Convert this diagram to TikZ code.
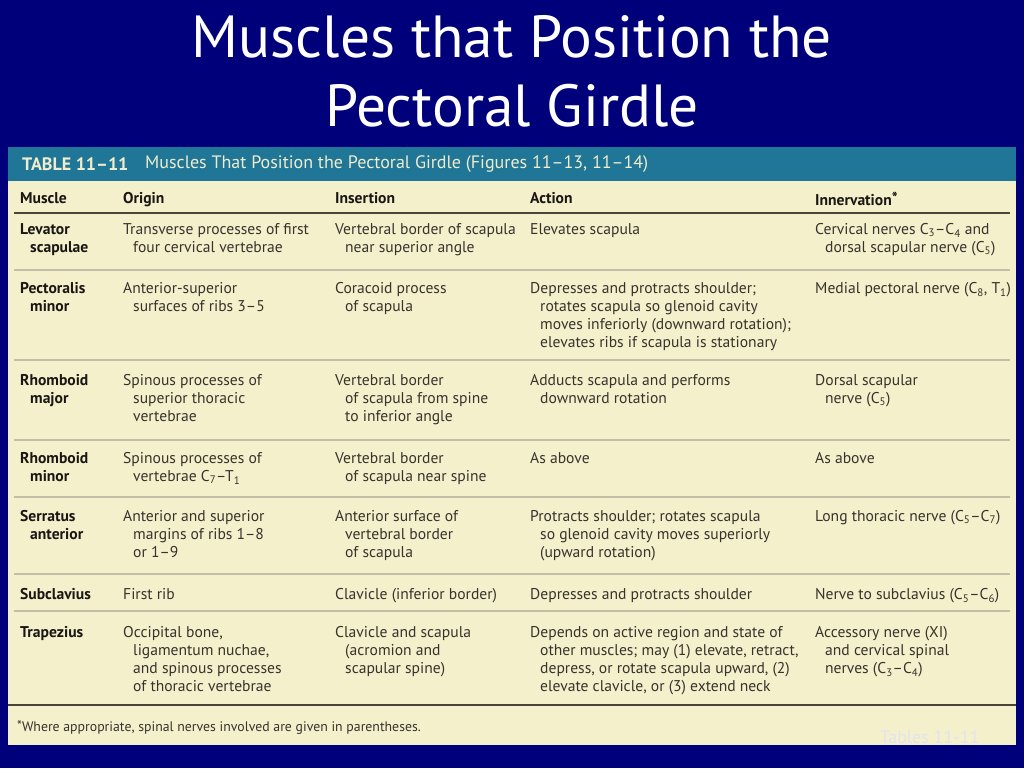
\documentclass[tikz,border=0pt]{standalone}
\usepackage{fontspec}
\setmainfont{PT Sans}
\newfontfamily\titlefont{PT Sans}
\newfontfamily\bodyfont{PT Sans}
\newcommand\idt{\hspace*{10pt}}
\newcommand\astk{\raisebox{0.1em}{*}}
\definecolor{bgnavy}{RGB}{0,0,122}
\definecolor{tblbeige}{RGB}{244,240,203}
\definecolor{tblteal}{RGB}{32,118,150}
\definecolor{bartext}{RGB}{240,236,205}
\definecolor{bodytxt}{RGB}{55,50,45}
\definecolor{headtxt}{RGB}{25,22,20}
\definecolor{darkrule}{RGB}{75,68,58}
\definecolor{lightrule}{RGB}{195,190,165}
\definecolor{faint}{RGB}{225,228,240}
\begin{document}
\begin{tikzpicture}[x=1pt,y=-1pt,
  cell/.style={anchor=north west, inner sep=0pt, align=left, text=bodytxt,
    font=\bodyfont\fontsize{15.6}{18}\selectfont},
  mcell/.style={cell, text=headtxt, font=\bodyfont\bfseries\fontsize{15.6}{18}\selectfont},
  hcell/.style={cell, text=headtxt, font=\bodyfont\bfseries\fontsize{15.6}{18}\selectfont},
  lightline/.style={draw=lightrule, line width=1.8pt},
  darkline/.style={draw=darkrule, line width=2pt}]
\fill[bgnavy] (0,0) rectangle (1024,768);
\useasboundingbox (0,0) rectangle (1024,768);
% title
\node[anchor=north, align=center, text=white, inner sep=0pt,
  font=\titlefont\fontsize{59.4}{68.5}\selectfont] (title) at (512,15.5)
  {Muscles that Position the\\Pectoral Girdle};
% table
\fill[tblbeige] (8,147) rectangle (1016,745);
\fill[tblteal] (8,147) rectangle (1016,181);
\node[anchor=west, inner sep=0pt, text=bartext, font=\bodyfont\bfseries\fontsize{18}{20}\selectfont] (tbl) at (22,164.5) {TABLE 11–11};
\node[anchor=west, inner sep=0pt, text=bartext, font=\bodyfont\fontsize{18}{20}\selectfont] (tblname) at (145,164.5) {Muscles That Position the Pectoral Girdle (Figures 11–13, 11–14)};
% header
\node[hcell] (hm) at (20,192) {Muscle};
\node[hcell] (ho) at (123,192) {Origin};
\node[hcell] (hi) at (335,192) {Insertion};
\node[hcell] (ha) at (530,192) {Action};
\node[hcell] (hn) at (815,192) {Innervation\astk};
% rules
\draw[darkline] (14,213) -- (1010,213);
\draw[lightline] (14,270) -- (1010,270);
\draw[lightline] (14,360) -- (1010,360);
\draw[lightline] (14,440) -- (1010,440);
\draw[lightline] (14,497) -- (1010,497);
\draw[lightline] (14,574) -- (1010,574);
\draw[lightline] (14,611) -- (1010,611);
\draw[darkline] (8,705) -- (1016,705);
% Levator scapulae
\node[mcell] (m1) at (20,223) {Levator\\\idt scapulae};
\node[cell] (o1) at (123,223) {Transverse processes of first\\\idt four cervical vertebrae};
\node[cell] (i1) at (335,223) {Vertebral border of scapula\\\idt near superior angle};
\node[cell] (a1) at (530,223) {Elevates scapula};
\node[cell] (n1) at (815,223) {Cervical nerves C\textsubscript{3}–C\textsubscript{4} and\\\idt dorsal scapular nerve (C\textsubscript{5})};
% Pectoralis minor
\node[mcell] (m2) at (20,282) {Pectoralis\\\idt minor};
\node[cell] (o2) at (123,282) {Anterior-superior\\\idt surfaces of ribs 3–5};
\node[cell] (i2) at (335,282) {Coracoid process\\\idt of scapula};
\node[cell] (a2) at (530,282) {Depresses and protracts shoulder;\\\idt rotates scapula so glenoid cavity\\\idt moves inferiorly (downward rotation);\\\idt elevates ribs if scapula is stationary};
\node[cell] (n2) at (815,282) {Medial pectoral nerve (C\textsubscript{8}, T\textsubscript{1})};
% Rhomboid major
\node[mcell] (m3) at (20,374) {Rhomboid\\\idt major};
\node[cell] (o3) at (123,374) {Spinous processes of\\\idt superior thoracic\\\idt vertebrae};
\node[cell] (i3) at (335,374) {Vertebral border\\\idt of scapula from spine\\\idt to inferior angle};
\node[cell] (a3) at (530,374) {Adducts scapula and performs\\\idt downward rotation};
\node[cell] (n3) at (815,374) {Dorsal scapular\\\idt nerve (C\textsubscript{5})};
% Rhomboid minor
\node[mcell] (m4) at (20,452) {Rhomboid\\\idt minor};
\node[cell] (o4) at (123,452) {Spinous processes of\\\idt vertebrae C\textsubscript{7}–T\textsubscript{1}};
\node[cell] (i4) at (335,452) {Vertebral border\\\idt of scapula near spine};
\node[cell] (a4) at (530,452) {As above};
\node[cell] (n4) at (815,452) {As above};
% Serratus anterior
\node[mcell] (m5) at (20,510) {Serratus\\\idt anterior};
\node[cell] (o5) at (123,510) {Anterior and superior\\\idt margins of ribs 1–8\\\idt or 1–9};
\node[cell] (i5) at (335,510) {Anterior surface of\\\idt vertebral border\\\idt of scapula};
\node[cell] (a5) at (530,510) {Protracts shoulder; rotates scapula\\\idt so glenoid cavity moves superiorly\\\idt (upward rotation)};
\node[cell] (n5) at (815,510) {Long thoracic nerve (C\textsubscript{5}–C\textsubscript{7})};
% Subclavius
\node[mcell] (m6) at (20,588) {Subclavius};
\node[cell] (o6) at (123,588) {First rib};
\node[cell] (i6) at (335,588) {Clavicle (inferior border)};
\node[cell] (a6) at (530,588) {Depresses and protracts shoulder};
\node[cell] (n6) at (815,588) {Nerve to subclavius (C\textsubscript{5}–C\textsubscript{6})};
% Trapezius
\node[mcell] (m7) at (20,626) {Trapezius};
\node[cell] (o7) at (123,626) {Occipital bone,\\\idt ligamentum nuchae,\\\idt and spinous processes\\\idt of thoracic vertebrae};
\node[cell] (i7) at (335,626) {Clavicle and scapula\\\idt (acromion and\\\idt scapular spine)};
\node[cell] (a7) at (530,626) {Depends on active region and state of\\\idt other muscles; may (1) elevate, retract,\\\idt depress, or rotate scapula upward, (2)\\\idt elevate clavicle, or (3) extend neck};
\node[cell] (n7) at (815,626) {Accessory nerve (XI)\\\idt and cervical spinal\\\idt nerves (C\textsubscript{3}–C\textsubscript{4})};
% footnote
\node[anchor=west, inner sep=0pt, text=bodytxt, font=\bodyfont\fontsize{13.8}{15}\selectfont] (fn) at (17,727.5) {\astk Where appropriate, spinal nerves involved are given in parentheses.};
\node[anchor=west, inner sep=0pt, text=faint, font=\bodyfont\fontsize{18}{20}\selectfont] (tag) at (880,737) {Tables 11-11};
\end{tikzpicture}
\end{document}
